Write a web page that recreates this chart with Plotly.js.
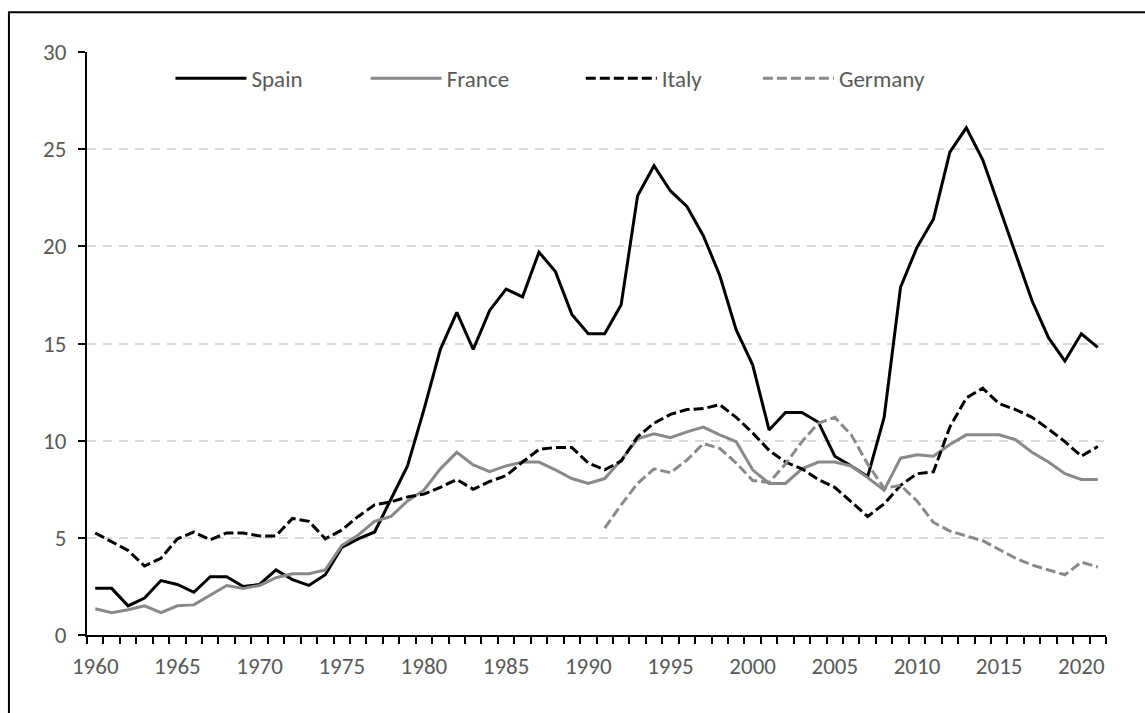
<!DOCTYPE html>
<html>
<head>
<meta charset="utf-8">
<script src="https://cdn.plot.ly/plotly-3.0.1.min.js"></script>
<style>html,body{margin:0;padding:0;background:#fff;}#chart{width:1145px;height:713px;}</style>
</head>
<body>
<div id="chart"></div>
<script>
const years = [];
for (let y = 1960; y <= 2021; y++) years.push(y);

const spain = [2.4,2.4,1.5,1.9,2.8,2.6,2.2,3.0,3.0,2.5,2.6,3.35,2.85,2.55,3.1,4.5,4.95,5.3,7.0,8.7,
  11.6,14.7,16.6,14.7,16.7,17.8,17.4,19.7,18.7,16.5,15.5,15.5,17.0,22.6,24.15,22.85,22.05,20.55,18.5,15.7,
  13.9,10.55,11.45,11.45,10.95,9.2,8.7,8.15,11.2,17.9,19.95,21.4,24.85,26.1,24.45,22.0,19.6,17.2,15.3,14.1,
  15.5,14.8];
const france = [1.35,1.15,1.3,1.5,1.15,1.5,1.55,2.05,2.55,2.4,2.55,2.95,3.15,3.15,3.35,4.6,5.15,5.85,6.1,6.9,
  7.45,8.55,9.4,8.75,8.4,8.7,8.9,8.9,8.5,8.05,7.8,8.05,9.0,10.1,10.35,10.15,10.45,10.7,10.3,9.95,
  8.5,7.8,7.8,8.55,8.9,8.9,8.7,8.1,7.45,9.1,9.27,9.2,9.8,10.3,10.3,10.3,10.05,9.4,8.9,8.3,
  8.0,8.0];
const italy = [5.25,4.8,4.35,3.55,3.95,4.95,5.3,4.9,5.25,5.25,5.1,5.1,6.0,5.85,4.95,5.4,6.1,6.7,6.85,7.1,
  7.25,7.6,8.0,7.5,7.9,8.2,8.9,9.55,9.65,9.65,8.85,8.5,8.95,10.2,10.9,11.35,11.6,11.65,11.85,11.2,
  10.4,9.5,8.9,8.55,8.0,7.6,6.85,6.1,6.75,7.7,8.3,8.4,10.7,12.2,12.7,11.9,11.6,11.2,10.6,9.95,
  9.2,9.7];
const germany = [null,null,null,null,null,null,null,null,null,null,null,null,null,null,null,null,null,null,null,null,
  null,null,null,null,null,null,null,null,null,null,null,5.5,6.7,7.8,8.55,8.35,9.0,9.85,9.6,8.85,
  7.95,7.85,8.8,9.95,10.9,11.2,10.3,8.8,7.55,7.7,6.9,5.8,5.35,5.1,4.85,4.4,3.95,3.6,3.35,3.1,
  3.75,3.5];
const tickYears = [1960,1965,1970,1975,1980,1985,1990,1995,2000,2005,2010,2015,2020];
const yTicks = [0,5,10,15,20,25,30];

const FONT = 'Carlito, Lato, "Open Sans", sans-serif';
const TXT = '#595959';
const GRAY = '#898989';
const FS = 23;

const traces = [
  {x: years, y: spain, name: 'Spain', mode: 'lines', legend: 'legend', line: {color: '#000000', width: 3}},
  {x: years, y: france, name: 'France', mode: 'lines', legend: 'legend2', line: {color: GRAY, width: 3}},
  {x: years, y: italy, name: 'Italy', mode: 'lines', legend: 'legend3', line: {color: '#000000', width: 3, dash: '10px,4px'}},
  {x: years, y: germany, name: 'Germany', mode: 'lines', legend: 'legend4', line: {color: GRAY, width: 3, dash: '10px,4px'}, connectgaps: false}
];

function leg(x) {
  return {
    orientation: 'h', x: x, y: 0.955, xanchor: 'left', yanchor: 'middle',
    bgcolor: 'rgba(0,0,0,0)', borderwidth: 0,
    font: {family: FONT, size: FS, color: TXT},
    itemwidth: 71
  };
}

const layout = {
  width: 1145, height: 713,
  margin: {l: 87, r: 39, t: 52, b: 78},
  paper_bgcolor: '#ffffff', plot_bgcolor: '#ffffff',
  font: {family: FONT, size: FS, color: TXT},
  showlegend: true,
  legend: leg(0.0819),
  legend2: leg(0.2735),
  legend3: leg(0.4846),
  legend4: leg(0.6584),
  xaxis: {
    range: [1959.5, 2021.5],
    tickmode: 'array', tickvals: tickYears, ticktext: tickYears.map(String),
    ticks: '', showgrid: false, zeroline: false,
    showline: true, linecolor: '#000000', linewidth: 2,
    tickfont: {family: FONT, size: FS, color: TXT},
    ticklabelstandoff: 9,
    minor: {tickmode: 'linear', tick0: 1959.5, dtick: 1, ticks: 'outside', ticklen: 7, tickwidth: 2, tickcolor: '#000000', showgrid: false}
  },
  yaxis: {
    range: [0, 30],
    tickmode: 'array', tickvals: yTicks, ticktext: yTicks.map(String),
    ticks: 'outside', ticklen: 7, tickwidth: 2, tickcolor: '#000000',
    showgrid: true, gridcolor: '#d9d9d9', gridwidth: 2, griddash: '9px,7px',
    zeroline: false, showline: true, linecolor: '#000000', linewidth: 2,
    tickfont: {family: FONT, size: FS, color: TXT},
    ticklabelstandoff: 7
  },
  shapes: [{
    type: 'rect', xref: 'paper', yref: 'paper',
    x0: -0.0766, x1: 1.2, y0: -0.3, y1: 1.068,
    line: {color: '#000000', width: 2}, fillcolor: 'rgba(0,0,0,0)', layer: 'above'
  }]
};

Plotly.newPlot('chart', traces, layout, {staticPlot: true, displayModeBar: false});
</script>
</body>
</html>
